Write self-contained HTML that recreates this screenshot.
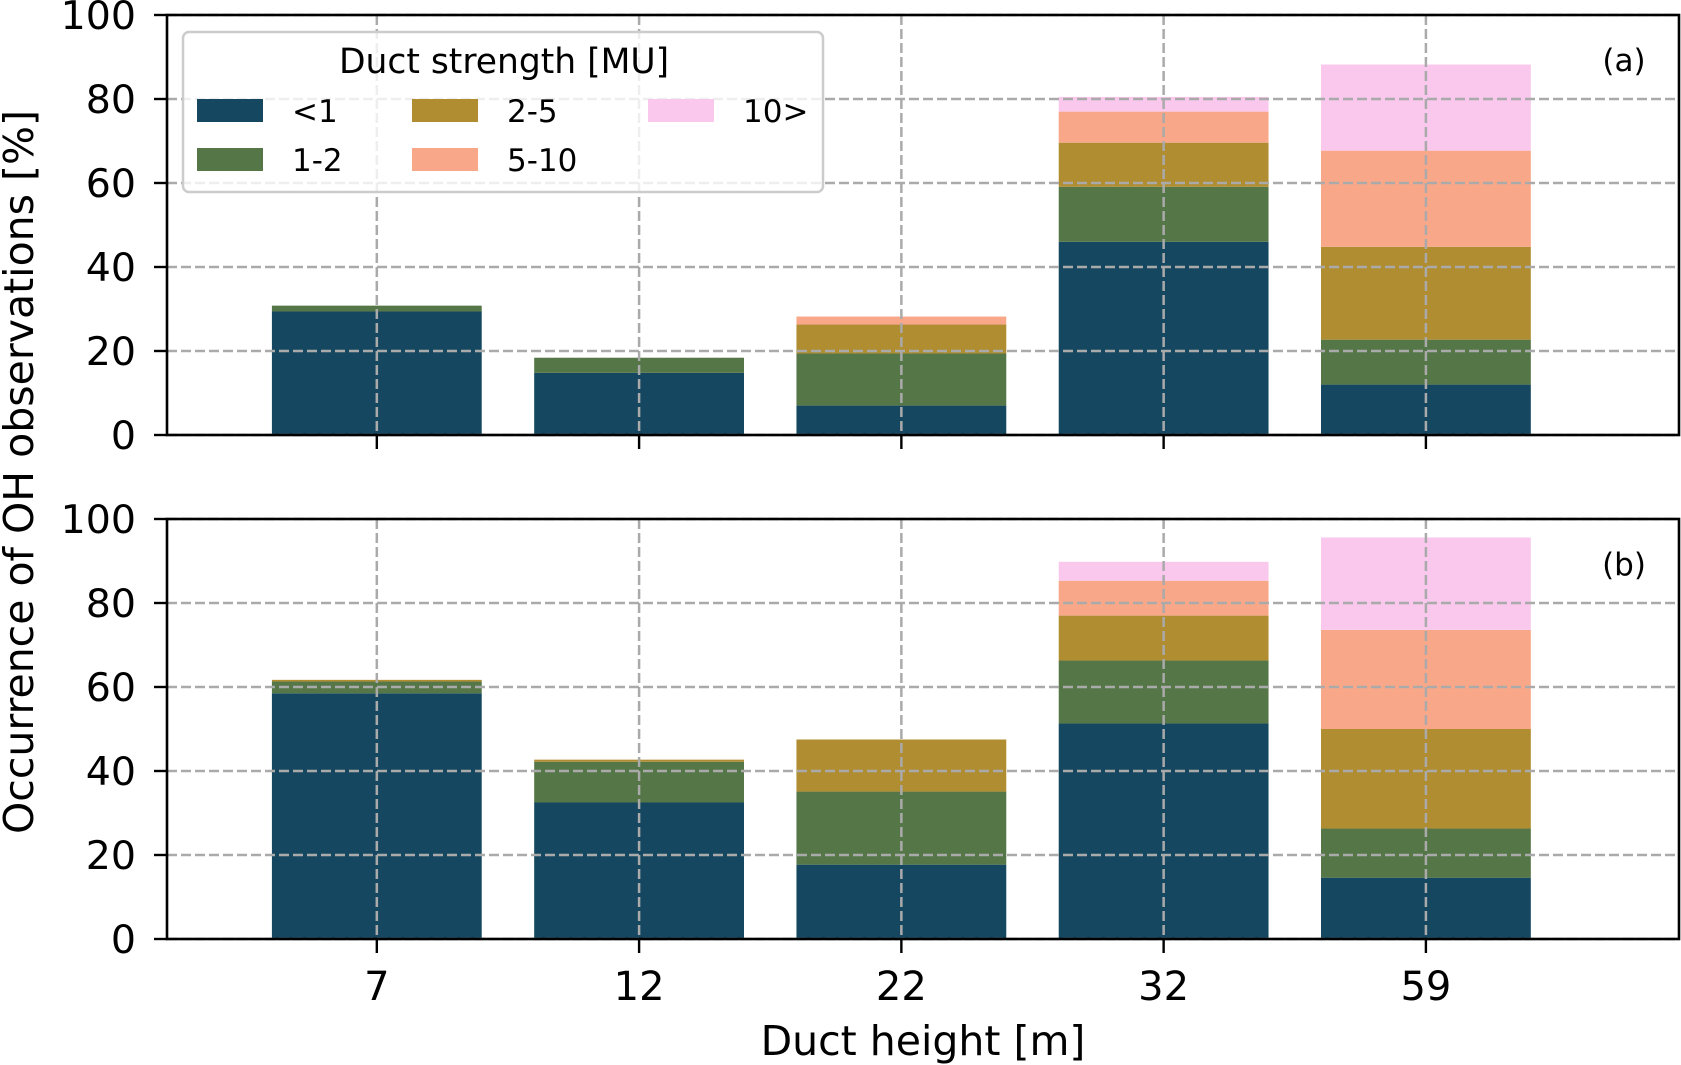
<!DOCTYPE html>
<html><head><meta charset="utf-8">
<style>
html,body{margin:0;padding:0;background:#fff;}
svg{display:block;font-family:"DejaVu Sans","Liberation Sans",sans-serif;}
</style></head>
<body>
<svg id="chart" width="1681" height="1065" viewBox="0 0 1681 1065" xmlns="http://www.w3.org/2000/svg"></svg>
<script>
const categories = ["7","12","22","32","59"];
const seriesNames = ["<1","1-2","2-5","5-10","10>"];
const yTicks = [0,20,40,60,80,100];
// panel (a) segment values (%) per series
const aLt1  = [29.4, 14.8, 7.0, 46.0, 12.0];
const a1to2 = [1.4, 3.6, 12.4, 13.1, 10.7];
const a2to5 = [0, 0, 6.9, 10.5, 22.1];
const a5to10= [0, 0, 1.9, 7.4, 22.9];
const aGt10 = [0, 0, 0, 3.5, 20.5];
// panel (b)
const bLt1  = [58.5, 32.5, 17.7, 51.3, 14.6];
const b1to2 = [2.8, 9.7, 17.4, 15.0, 11.7];
const b2to5 = [0.4, 0.5, 12.4, 10.7, 23.7];
const b5to10= [0, 0, 0, 8.3, 23.6];
const bGt10 = [0, 0, 0, 4.5, 22.0];

const colors = ["#154860","#557647","#b18d31","#f9a789","#f9c8ec"];
const NS = "http://www.w3.org/2000/svg";
const svg = document.getElementById("chart");
const L = 167, R = 1679;
const xMin = -0.8, xMax = 4.965;
function xs(i){ return L + (i - xMin) / (xMax - xMin) * (R - L); }
function mk(tag, attrs, parent){
  const e = document.createElementNS(NS, tag);
  for (const k in attrs) e.setAttribute(k, attrs[k]);
  (parent || svg).appendChild(e);
  return e;
}
const panels = [
  {top:15, bottom:435, label:"(a)", data:[aLt1,a1to2,a2to5,a5to10,aGt10], name:"a"},
  {top:519, bottom:939, label:"(b)", data:[bLt1,b1to2,b2to5,b5to10,bGt10], name:"b"}
];
panels.forEach(p => {
  const g = mk("g", {});
  
  
  const ys = v => p.bottom - v / 100 * (p.bottom - p.top);
  const bw = 0.8;
  categories.forEach((c, i) => {
    let cum = 0;
    p.data.forEach((ser, s) => {
      const v = ser[i];
      if (v <= 0) return;
      const x0 = xs(i - bw/2), x1 = xs(i + bw/2);
      const r = mk("rect", {x:x0, y:ys(cum+v), width:x1-x0, height:ys(cum)-ys(cum+v), fill:colors[s]}, g);
      
      
      cum += v;
    });
  });
  yTicks.forEach(t => {
    const l = mk("line", {x1:L, x2:R, y1:ys(t), y2:ys(t), stroke:"#aaaaaa", "stroke-width":2.5, "stroke-dasharray":"10,4"}, g);
    
    
  });
  categories.forEach((c, i) => {
    const l = mk("line", {x1:xs(i), x2:xs(i), y1:p.top, y2:p.bottom, stroke:"#aaaaaa", "stroke-width":2.5, "stroke-dasharray":"10,4"}, g);
    
    
    const tk = mk("line", {x1:xs(i), x2:xs(i), y1:p.bottom, y2:p.bottom+14, stroke:"#000", "stroke-width":2.4}, g);
    
    
  });
  yTicks.forEach(t => {
    const tk = mk("line", {x1:L-13, x2:L, y1:ys(t), y2:ys(t), stroke:"#000", "stroke-width":2.4}, g);
    
    
    const tx = mk("text", {x:L-31, y:ys(t)+14, "text-anchor":"end", "font-size":39.5, fill:"#000"}, g);
    tx.textContent = t;
    
    
  });
  const fr = mk("rect", {x:L, y:p.top, width:R-L, height:p.bottom-p.top, fill:"none", stroke:"#000", "stroke-width":2.6}, g);
  
  
  const pl = mk("text", {x:1624, y:p.top+56, "text-anchor":"middle", "font-size":31, fill:"#000"}, g);
  pl.textContent = p.label;
  
  
});
categories.forEach((c, i) => {
  const tx = mk("text", {x:xs(i), y:1000, "text-anchor":"middle", "font-size":40, fill:"#000"});
  tx.textContent = c;
  
  
});
const xt = mk("text", {x:923, y:1055, "text-anchor":"middle", "font-size":41, fill:"#000"});
xt.textContent = "Duct height [m]";


const yt = mk("text", {x:0, y:0, "text-anchor":"middle", "font-size":41, fill:"#000", transform:"translate(33,472) rotate(-90)"});
yt.textContent = "Occurrence of OH observations [%]";


const lg = mk("g", {});


const lb = mk("rect", {x:183, y:32, width:640, height:160, rx:6, fill:"rgba(255,255,255,0.8)", stroke:"#cccccc", "stroke-width":2.5}, lg);


const lt = mk("text", {x:504, y:73, "text-anchor":"middle", "font-size":34.5, fill:"#000"}, lg);
lt.textContent = "Duct strength [MU]";


const pos = [[197,99],[197,148],[412,99],[412,148],[648,99]];
seriesNames.forEach((n, s) => {
  const [px, py] = pos[s];
  const r = mk("rect", {x:px, y:py, width:66, height:23, fill:colors[s]}, lg);
  
  
  const t = mk("text", {x:px+95, y:py+23, "font-size":31, fill:"#000"}, lg);
  t.textContent = n;
  
  
});
</script>
</body></html>
